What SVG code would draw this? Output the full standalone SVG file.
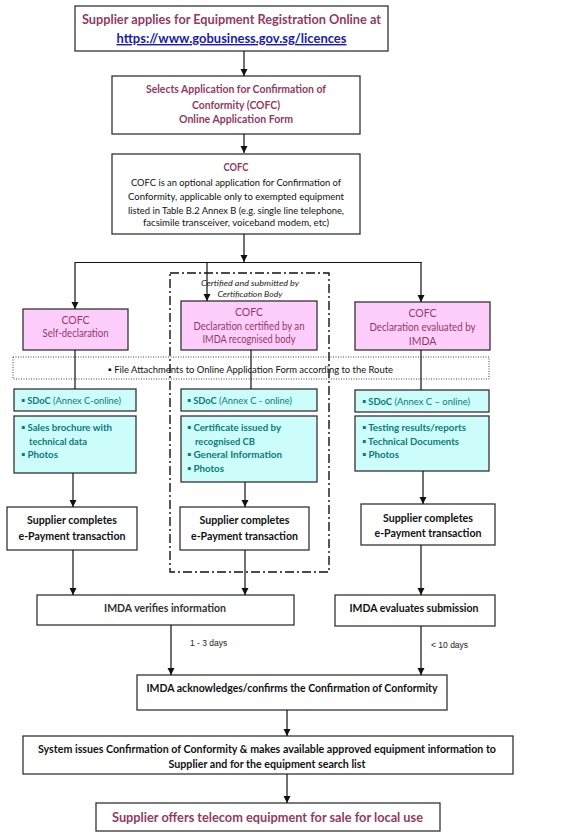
<svg xmlns="http://www.w3.org/2000/svg" width="583" height="833" viewBox="0 0 583 833">
<style>
.box{fill:#fff;stroke:#333;stroke-width:1.3}
.pink{fill:#fdcdfb;stroke:#333;stroke-width:1.3}
.cyan{fill:#ccfdfb;stroke:#333;stroke-width:1.3}
text{font-family:Lato,"Open Sans","Liberation Sans",sans-serif;text-anchor:middle}
.mar{fill:#933a62;font-weight:bold}
.marn{fill:#933a62}
.blk{fill:#111;font-weight:bold}
.body{fill:#111}
.teal{fill:#0b7a7a;font-weight:bold;text-anchor:start}
.tealn{font-weight:normal}
.note{font-family:"Liberation Sans",Arial,sans-serif;fill:#222;font-size:8.5px;text-anchor:start}
.con{stroke:#111;stroke-width:1.2;fill:none}
</style>
<defs>
<marker id="ah" markerUnits="userSpaceOnUse" markerWidth="8" markerHeight="8" refX="7" refY="4" orient="auto">
<path d="M0,0.5 L7,4 L0,7.5 z" fill="#111"/>
</marker>
</defs>
<rect width="583" height="833" fill="#fff"/>

<g id="n-start">
<rect class="box" x="75" y="6" width="313" height="45"/>
<text class="mar" x="231.5" y="24" font-size="14" textLength="299" lengthAdjust="spacingAndGlyphs">Supplier applies for Equipment Registration Online at</text>
<text x="231.5" y="43" font-size="14" font-weight="bold" fill="#1a1ab0" text-decoration="underline" textLength="230" lengthAdjust="spacingAndGlyphs">https://www.gobusiness.gov.sg/licences</text>
</g>

<g id="n-select">
<rect class="box" x="112" y="76" width="248" height="58"/>
<text class="mar" x="236" y="93" font-size="11" textLength="180" lengthAdjust="spacingAndGlyphs">Selects Application for Confirmation of</text>
<text class="mar" x="236" y="109" font-size="11" textLength="88" lengthAdjust="spacingAndGlyphs">Conformity (COFC)</text>
<text class="mar" x="236" y="123" font-size="11" textLength="114" lengthAdjust="spacingAndGlyphs">Online Application Form</text>
</g>

<g id="n-cofc">
<rect class="box" x="112" y="154" width="248" height="80"/>
<text class="mar" x="236" y="171" font-size="11.5" textLength="25" lengthAdjust="spacingAndGlyphs">COFC</text>
<text class="body" x="236" y="186" font-size="10" textLength="210" lengthAdjust="spacingAndGlyphs">COFC is an optional application for Confirmation of</text>
<text class="body" x="236" y="200" font-size="10" textLength="216" lengthAdjust="spacingAndGlyphs">Conformity, applicable only to exempted equipment</text>
<text class="body" x="236" y="214" font-size="10" textLength="216" lengthAdjust="spacingAndGlyphs">listed in Table B.2 Annex B (e.g. single line telephone,</text>
<text class="body" x="236" y="226" font-size="10" textLength="186" lengthAdjust="spacingAndGlyphs">facsimile transceiver, voiceband modem, etc)</text>
</g>

<g id="n-cbgroup">
<rect x="170" y="273" width="159" height="299" fill="none" stroke="#111" stroke-width="1.4" stroke-dasharray="9,3,2,3"/>
<text x="250" y="286" font-size="8.5" font-style="italic" fill="#222" textLength="98" lengthAdjust="spacingAndGlyphs">Certified and submitted by</text>
<text x="250" y="297" font-size="8.5" font-style="italic" fill="#222" textLength="65" lengthAdjust="spacingAndGlyphs">Certification Body</text>
</g>

<g id="n-self">
<rect class="pink" x="23" y="309" width="105" height="41"/>
<text class="marn" x="75.5" y="324" font-size="10.5">COFC</text>
<text class="marn" x="75.5" y="337" font-size="10.5" textLength="66" lengthAdjust="spacingAndGlyphs">Self-declaration</text>
</g>

<g id="n-cert">
<rect class="pink" x="181" y="301" width="136" height="49"/>
<text class="marn" x="249" y="316" font-size="10.5">COFC</text>
<text class="marn" x="249" y="330" font-size="10.5" textLength="111" lengthAdjust="spacingAndGlyphs">Declaration certified by an</text>
<text class="marn" x="249" y="343" font-size="10.5" textLength="93" lengthAdjust="spacingAndGlyphs">IMDA recognised body</text>
</g>

<g id="n-eval">
<rect class="pink" x="355" y="302" width="135" height="48"/>
<text class="marn" x="422.5" y="317" font-size="10.5">COFC</text>
<text class="marn" x="422.5" y="331" font-size="10.5" textLength="106" lengthAdjust="spacingAndGlyphs">Declaration evaluated by</text>
<text class="marn" x="422.5" y="345" font-size="10.5">IMDA</text>
</g>

<g id="n-banner">
<rect x="13" y="357" width="476" height="22" fill="none" stroke="#444" stroke-width="1" stroke-dasharray="1,1.5"/>
<text class="body" x="250.5" y="373" font-size="9.5" textLength="285" lengthAdjust="spacingAndGlyphs">▪ File Attachments to Online Application Form according to the Route</text>
</g>

<g id="n-sdoc1">
<rect class="cyan" x="14" y="389" width="122" height="22"/>
<text class="teal" x="21" y="404" font-size="10" textLength="100" lengthAdjust="spacingAndGlyphs">▪ SDoC <tspan class="tealn">(Annex C-online)</tspan></text>
</g>
<g id="n-att1">
<rect class="cyan" x="14" y="416" width="122" height="57"/>
<text class="teal" x="21" y="431" font-size="10" textLength="91" lengthAdjust="spacingAndGlyphs">▪ Sales brochure with</text>
<text class="teal" x="29" y="445" font-size="10" textLength="58" lengthAdjust="spacingAndGlyphs">technical data</text>
<text class="teal" x="21" y="458" font-size="10" textLength="37" lengthAdjust="spacingAndGlyphs">▪ Photos</text>
</g>

<g id="n-sdoc2">
<rect class="cyan" x="181" y="389" width="136" height="22"/>
<text class="teal" x="187" y="404" font-size="10" textLength="105" lengthAdjust="spacingAndGlyphs">▪ SDoC <tspan class="tealn">(Annex C - online)</tspan></text>
</g>
<g id="n-att2">
<rect class="cyan" x="181" y="416" width="136" height="66"/>
<text class="teal" x="187" y="431" font-size="10" textLength="94" lengthAdjust="spacingAndGlyphs">▪ Certificate issued by</text>
<text class="teal" x="195" y="445" font-size="10" textLength="60" lengthAdjust="spacingAndGlyphs">recognised CB</text>
<text class="teal" x="187" y="458" font-size="10" textLength="95" lengthAdjust="spacingAndGlyphs">▪ General Information</text>
<text class="teal" x="187" y="472" font-size="10" textLength="37" lengthAdjust="spacingAndGlyphs">▪ Photos</text>
</g>

<g id="n-sdoc3">
<rect class="cyan" x="355" y="390" width="134" height="22"/>
<text class="teal" x="362" y="405" font-size="10" textLength="108" lengthAdjust="spacingAndGlyphs">▪ SDoC <tspan class="tealn">(Annex C – online)</tspan></text>
</g>
<g id="n-att3">
<rect class="cyan" x="355" y="416" width="134" height="55"/>
<text class="teal" x="362" y="431" font-size="10" textLength="104" lengthAdjust="spacingAndGlyphs">▪ Testing results/reports</text>
<text class="teal" x="362" y="445" font-size="10" textLength="97" lengthAdjust="spacingAndGlyphs">▪ Technical Documents</text>
<text class="teal" x="362" y="458" font-size="10" textLength="37" lengthAdjust="spacingAndGlyphs">▪ Photos</text>
</g>

<g id="n-pay1">
<rect class="box" x="7" y="507" width="130" height="43"/>
<text class="blk" x="72" y="524" font-size="10.5" textLength="90" lengthAdjust="spacingAndGlyphs">Supplier completes</text>
<text class="blk" x="72" y="540" font-size="10.5" textLength="107" lengthAdjust="spacingAndGlyphs">e-Payment transaction</text>
</g>
<g id="n-pay2">
<rect class="box" x="180" y="507" width="129" height="43"/>
<text class="blk" x="244.5" y="524" font-size="10.5" textLength="90" lengthAdjust="spacingAndGlyphs">Supplier completes</text>
<text class="blk" x="244.5" y="540" font-size="10.5" textLength="107" lengthAdjust="spacingAndGlyphs">e-Payment transaction</text>
</g>
<g id="n-pay3">
<rect class="box" x="361" y="504" width="134" height="41"/>
<text class="blk" x="428" y="522" font-size="10.5" textLength="90" lengthAdjust="spacingAndGlyphs">Supplier completes</text>
<text class="blk" x="428" y="537" font-size="10.5" textLength="107" lengthAdjust="spacingAndGlyphs">e-Payment transaction</text>
</g>

<g id="n-verify">
<rect class="box" x="37" y="595" width="257" height="30"/>
<text class="blk" x="165" y="612" font-size="10.5" fill="#333" style="fill:#333" textLength="122" lengthAdjust="spacingAndGlyphs">IMDA verifies information</text>
</g>
<g id="n-evaluate">
<rect class="box" x="335" y="595" width="160" height="31"/>
<text class="blk" x="414" y="612" font-size="10.5" textLength="129" lengthAdjust="spacingAndGlyphs">IMDA evaluates submission</text>
</g>

<g id="n-ack">
<rect class="box" x="137" y="675" width="310" height="35"/>
<text class="blk" x="292" y="692" font-size="10.5" textLength="291" lengthAdjust="spacingAndGlyphs">IMDA acknowledges/confirms the Confirmation of Conformity</text>
</g>

<g id="n-system">
<rect class="box" x="23" y="736" width="490" height="38"/>
<text class="blk" x="267" y="753" font-size="10.5" textLength="458" lengthAdjust="spacingAndGlyphs">System issues Confirmation of Conformity &amp; makes available approved equipment information to</text>
<text class="blk" x="267" y="768" font-size="10.5" textLength="197" lengthAdjust="spacingAndGlyphs">Supplier and for the equipment search list</text>
</g>

<g id="n-offer">
<rect class="box" x="96" y="803" width="344" height="28"/>
<text class="mar" x="267.5" y="822" font-size="14" textLength="311" lengthAdjust="spacingAndGlyphs">Supplier offers telecom equipment for sale for local use</text>
</g>

<g id="connectors">
<path class="con" d="M244,51 V76" marker-end="url(#ah)"/>
<path class="con" d="M244,134 V153" marker-end="url(#ah)"/>
<path class="con" d="M244,234 V262" marker-end="url(#ah)"/>
<path class="con" d="M75,262.5 H421.5"/>
<path class="con" d="M75,262 V309" marker-end="url(#ah)"/>
<path class="con" d="M207,262 V301" marker-end="url(#ah)"/>
<path class="con" d="M421,262 V302" marker-end="url(#ah)"/>
<path class="con" d="M75,350 V389"/>
<path class="con" d="M251,350 V389"/>
<path class="con" d="M421,350 V390"/>
<path class="con" d="M73,473 V507" marker-end="url(#ah)"/>
<path class="con" d="M245,482 V507" marker-end="url(#ah)"/>
<path class="con" d="M423,471 V504" marker-end="url(#ah)"/>
<path class="con" d="M73,550 V595" marker-end="url(#ah)"/>
<path class="con" d="M245,550 V595" marker-end="url(#ah)"/>
<path class="con" d="M421,545 V595" marker-end="url(#ah)"/>
<path class="con" d="M171,625 V675" marker-end="url(#ah)"/>
<path class="con" d="M421,626 V675" marker-end="url(#ah)"/>
<path class="con" d="M287,710 V736" marker-end="url(#ah)"/>
<path class="con" d="M287,774 V803" marker-end="url(#ah)"/>
<text class="note" x="190" y="646">1 - 3 days</text>
<text class="note" x="431" y="648">&lt; 10 days</text>
</g>
</svg>
